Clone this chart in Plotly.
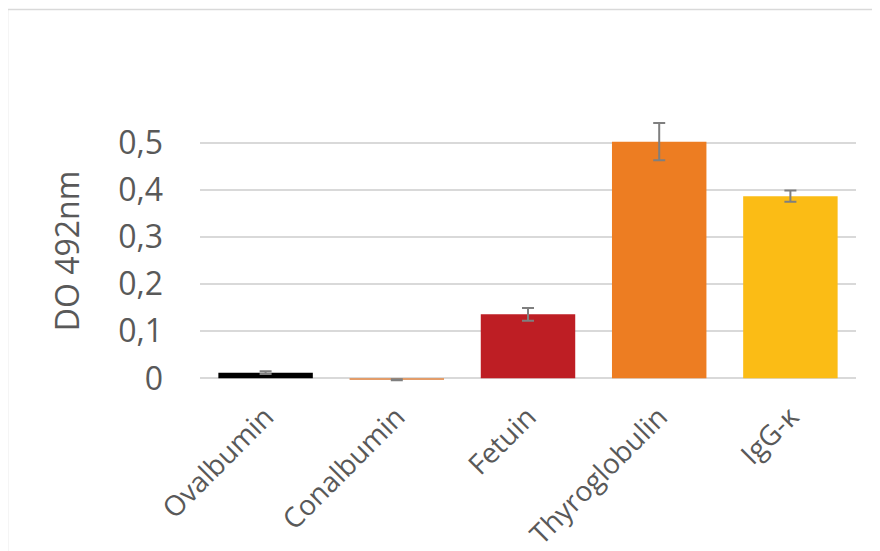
import plotly.graph_objects as go

categories = ["Ovalbumin", "Conalbumin", "Fetuin", "Thyroglobulin", "IgG-κ"]
values = [0.012, -0.003, 0.136, 0.503, 0.387]
errors = [0.003, 0.001, 0.0135, 0.0395, 0.012]
colors = ["#000000", "#E39D6A", "#BE1E24", "#ED7D22", "#FBBC15"]
ytick_vals = [0, 0.1, 0.2, 0.3, 0.4, 0.5]
ytick_text = ["0", "0,1", "0,2", "0,3", "0,4", "0,5"]
y_title = "DO 492nm"

FONT = "Open Sans"
GREY = "#595959"

fig = go.Figure(
    go.Bar(
        x=categories,
        y=values,
        marker=dict(color=colors, line=dict(width=0)),
        error_y=dict(type="data", array=errors, visible=True,
                     color="#7F7F7F", thickness=2, width=6),
    )
)

fig.update_layout(
    width=880, height=551,
    margin=dict(l=192, r=32, t=88, b=176),
    paper_bgcolor="white", plot_bgcolor="white",
    bargap=0.28,
    showlegend=False,
    font=dict(family=FONT, color=GREY),
    shapes=[dict(type="rect", xref="paper", yref="paper",
                 x0=-0.2934, x1=1.2, y0=-1.0, y1=1.3017,
                 line=dict(color="#D9D9D9", width=1.5), fillcolor="rgba(0,0,0,0)",
                 layer="below")],
    annotations=[dict(text=y_title, xref="paper", yref="paper",
                      x=-0.2042, y=0.4593, xanchor="center", yanchor="middle",
                      textangle=-90, showarrow=False,
                      font=dict(size=32, color=GREY, family=FONT))],
)

fig.update_yaxes(
    range=[-0.01, 0.6],
    automargin=False,
    tickvals=ytick_vals, ticktext=ytick_text,
    tickfont=dict(size=32, color=GREY, family=FONT),
    showgrid=True, gridcolor="#D9D9D9", gridwidth=1.5,
    zeroline=True, zerolinecolor="#D9D9D9", zerolinewidth=1.5,
    showline=False, ticks="",
    ticklabelstandoff=36,
)

fig.update_xaxes(
    automargin=False,
    tickangle=-45,
    tickfont=dict(size=28, color=GREY, family=FONT),
    showline=False, ticks="", showgrid=False,
    ticklabelstandoff=11,
)

fig.write_html("out.html")
